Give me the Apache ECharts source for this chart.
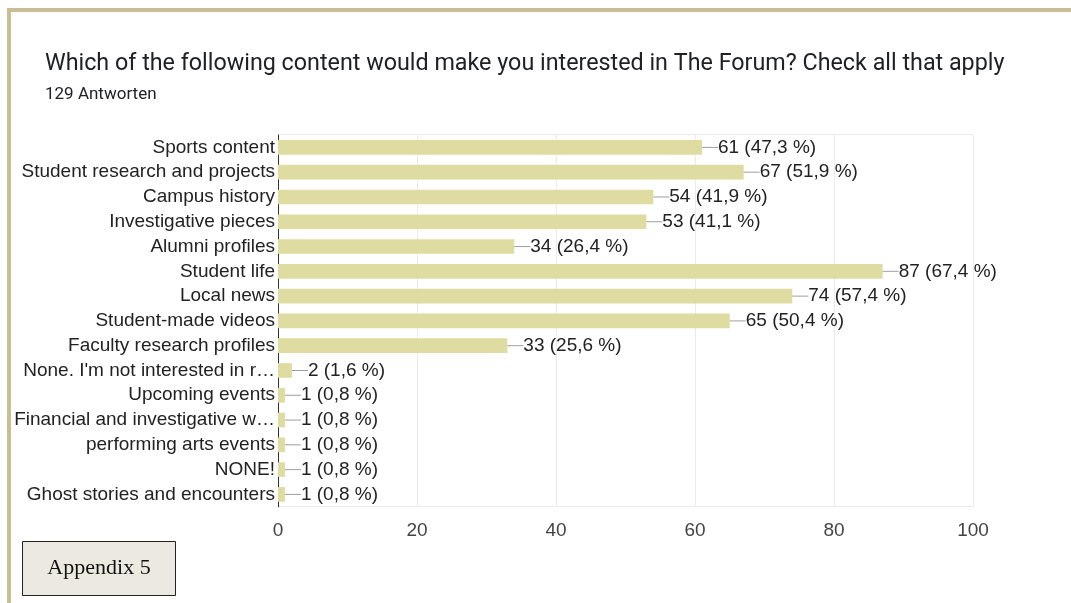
<!DOCTYPE html>
<html>
<head>
<meta charset="utf-8">
<script src="https://cdn.jsdelivr.net/npm/echarts@6/dist/echarts.min.js"></script>
<style>
  html, body { margin: 0; padding: 0; background: #fff; }
  #chart { width: 1071px; height: 603px; }
</style>
</head>
<body>
<div id="chart"></div>
<script>
// Survey answers: "Which of the following content would make you interested in The Forum?"
const categories = [
  'Sports content',
  'Student research and projects',
  'Campus history',
  'Investigative pieces',
  'Alumni profiles',
  'Student life',
  'Local news',
  'Student-made videos',
  'Faculty research profiles',
  "None. I'm not interested in r\u2026",
  'Upcoming events',
  'Financial and investigative w\u2026',
  'performing arts events',
  'NONE!',
  'Ghost stories and encounters'
];
const counts = [61, 67, 54, 53, 34, 87, 74, 65, 33, 2, 1, 1, 1, 1, 1];
const totalResponses = 129;
const xTicks = [0, 20, 40, 60, 80, 100];

const pct = v => (v / totalResponses * 100).toFixed(1).replace('.', ',');

const chart = echarts.init(document.getElementById('chart'), null, { renderer: 'canvas' });

chart.setOption({
  backgroundColor: '#ffffff',
  animation: false,
  title: {
    text: 'Which of the following content would make you interested in The Forum? Check all that apply',
    subtext: totalResponses + ' Antworten',
    left: 40,
    top: 48,
    itemGap: 10,
    textStyle: { fontFamily: 'Roboto', fontSize: 23.3, fontWeight: 'normal', color: '#202124' },
    subtextStyle: { fontFamily: 'Roboto', fontSize: 17, color: '#202124' }
  },
  grid: { left: 278, right: 98, top: 135, bottom: 96.2, containLabel: false, show: false },
  xAxis: {
    type: 'value',
    min: 0,
    max: 100,
    interval: 20,
    axisLine: { show: false },
    axisTick: { show: false },
    splitLine: { show: true, lineStyle: { color: '#ebebeb', width: 1 } },
    axisLabel: {
      margin: 14,
      fontFamily: 'Liberation Sans',
      fontSize: 19,
      color: '#444',
      formatter: v => (xTicks.includes(v) ? String(v) : '')
    }
  },
  yAxis: {
    type: 'category',
    inverse: true,
    data: categories,
    axisLine: { show: true, lineStyle: { color: '#333', width: 1 } },
    axisTick: { show: false },
    axisLabel: {
      margin: 3,
      fontFamily: 'Liberation Sans',
      fontSize: 19,
      color: '#222'
    }
  },
  series: [{
    type: 'bar',
    data: counts,
    barCategoryGap: '41%',
    itemStyle: { color: '#dfdca2' },
    label: {
      show: true,
      position: 'right',
      distance: 0,
      formatter: p => '{l|}{v|' + p.value + ' (' + pct(p.value) + ' %)}',
      rich: {
        l: { width: 16, height: 1, backgroundColor: '#9e9e9e', verticalAlign: 'middle' },
        v: { fontFamily: 'Liberation Sans', fontSize: 19, color: '#222' }
      }
    }
  }],
  graphic: [
    // frame lines along the top and left edges
    { type: 'rect', shape: { x: 7, y: 8, width: 1064, height: 4 }, style: { fill: '#c8bd95' } },
    { type: 'rect', shape: { x: 7, y: 8, width: 4, height: 595 }, style: { fill: '#c8bd95' } },
    // grid frame (top, right, bottom)
    { type: 'polyline', shape: { points: [[278, 134.5], [973.5, 134.5], [973.5, 506.5], [278, 506.5]] },
      style: { stroke: '#ebebeb', fill: null, lineWidth: 1 } },
    // appendix tag
    { type: 'rect', shape: { x: 22.5, y: 541.5, width: 153, height: 54 },
      style: { fill: '#eceae0', stroke: '#222', lineWidth: 1 } },
    { type: 'text', x: 99, y: 568,
      style: { text: 'Appendix 5', font: '22px "Liberation Serif", "DejaVu Serif", serif',
               fill: '#111', textAlign: 'center', textVerticalAlign: 'middle' } }
  ]
});
</script>
</body>
</html>
